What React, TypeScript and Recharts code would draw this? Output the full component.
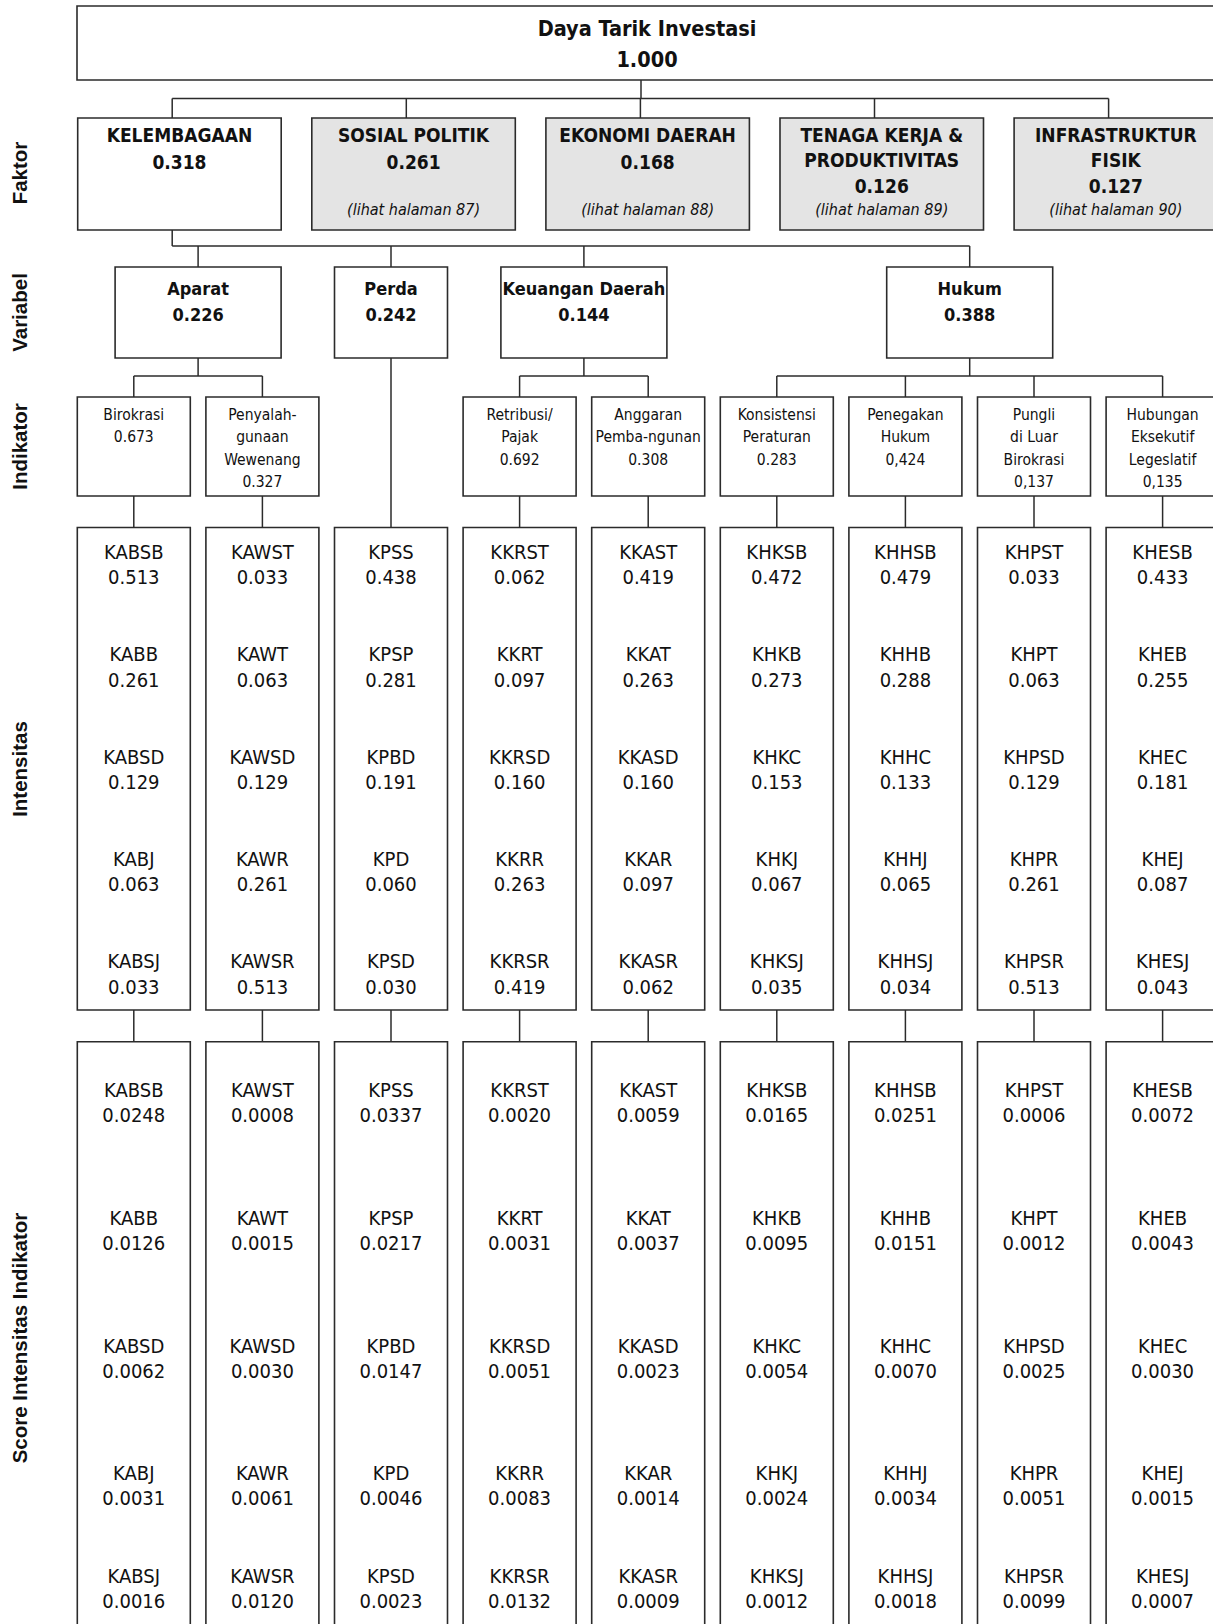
import React from 'react';
import { ScatterChart, Scatter, XAxis, YAxis, ReferenceArea, ReferenceLine } from 'recharts';

// ---------------- DATA ----------------
const rootTitle = 'Daya Tarik Investasi';
const rootValue = '1.000';

const faktorTitles = [
  ['KELEMBAGAAN'],
  ['SOSIAL POLITIK'],
  ['EKONOMI DAERAH'],
  ['TENAGA KERJA &', 'PRODUKTIVITAS'],
  ['INFRASTRUKTUR', 'FISIK'],
];
const faktorValues = ['0.318', '0.261', '0.168', '0.126', '0.127'];
const faktorNotes = ['', '(lihat halaman 87)', '(lihat halaman 88)', '(lihat halaman 89)', '(lihat halaman 90)'];

const variabelNames = ['Aparat', 'Perda', 'Keuangan Daerah', 'Hukum'];
const variabelValues = ['0.226', '0.242', '0.144', '0.388'];
const variabelChildren = [[0, 1], [2], [3, 4], [5, 6, 7, 8]];

const indikatorNames = [
  ['Birokrasi'],
  ['Penyalah-', 'gunaan', 'Wewenang'],
  [],
  ['Retribusi/', 'Pajak'],
  ['Anggaran', 'Pemba-ngunan'],
  ['Konsistensi', 'Peraturan'],
  ['Penegakan', 'Hukum'],
  ['Pungli', 'di Luar', 'Birokrasi'],
  ['Hubungan', 'Eksekutif', 'Legeslatif'],
];
const indikatorValues = ['0.673', '0.327', '', '0.692', '0.308', '0.283', '0,424', '0,137', '0,135'];

const intensitasCodes = [
  ['KABSB', 'KABB', 'KABSD', 'KABJ', 'KABSJ'],
  ['KAWST', 'KAWT', 'KAWSD', 'KAWR', 'KAWSR'],
  ['KPSS', 'KPSP', 'KPBD', 'KPD', 'KPSD'],
  ['KKRST', 'KKRT', 'KKRSD', 'KKRR', 'KKRSR'],
  ['KKAST', 'KKAT', 'KKASD', 'KKAR', 'KKASR'],
  ['KHKSB', 'KHKB', 'KHKC', 'KHKJ', 'KHKSJ'],
  ['KHHSB', 'KHHB', 'KHHC', 'KHHJ', 'KHHSJ'],
  ['KHPST', 'KHPT', 'KHPSD', 'KHPR', 'KHPSR'],
  ['KHESB', 'KHEB', 'KHEC', 'KHEJ', 'KHESJ'],
];
const intensitasValues = [
  ['0.513', '0.261', '0.129', '0.063', '0.033'],
  ['0.033', '0.063', '0.129', '0.261', '0.513'],
  ['0.438', '0.281', '0.191', '0.060', '0.030'],
  ['0.062', '0.097', '0.160', '0.263', '0.419'],
  ['0.419', '0.263', '0.160', '0.097', '0.062'],
  ['0.472', '0.273', '0.153', '0.067', '0.035'],
  ['0.479', '0.288', '0.133', '0.065', '0.034'],
  ['0.033', '0.063', '0.129', '0.261', '0.513'],
  ['0.433', '0.255', '0.181', '0.087', '0.043'],
];
const scoreValues = [
  ['0.0248', '0.0126', '0.0062', '0.0031', '0.0016'],
  ['0.0008', '0.0015', '0.0030', '0.0061', '0.0120'],
  ['0.0337', '0.0217', '0.0147', '0.0046', '0.0023'],
  ['0.0020', '0.0031', '0.0051', '0.0083', '0.0132'],
  ['0.0059', '0.0037', '0.0023', '0.0014', '0.0009'],
  ['0.0165', '0.0095', '0.0054', '0.0024', '0.0012'],
  ['0.0251', '0.0151', '0.0070', '0.0034', '0.0018'],
  ['0.0006', '0.0012', '0.0025', '0.0051', '0.0099'],
  ['0.0072', '0.0043', '0.0030', '0.0015', '0.0007'],
];

const rowLabels = ['Faktor', 'Variabel', 'Indikator', 'Intensitas', 'Score Intensitas Indikator'];

// ---------------- LAYOUT ----------------
const W = 1213;
const H = 1624;
const LINE = '#2b2b2b';
const GRAY = '#e4e4e4';

const ROOT_X1 = 77, ROOT_X2 = 1217, ROOT_Y1 = 6, ROOT_Y2 = 80;
const ROOT_DROP_X = 641;
const BUS1_Y = 98.5;
const FAK_LEFT0 = 77.7, FAK_STEP = 234.1, FAK_W = 203.5, FAK_TOP = 118, FAK_BOT = 230, FAK_DROP = 94.5;
const BUS2_Y = 246;
const VAR_TOP = 267, VAR_BOT = 358, VAR_W = 166;
const BUS3_Y = 376;
const COL_LEFT0 = 77.3, COL_STEP = 128.6, COL_W = 113;
const IND_TOP = 397, IND_BOT = 496;
const INT_TOP = 527.5, INT_BOT = 1010;
const SC_TOP = 1041.7, SC_BOT = 1680;
const INT_ROWS = [552, 654.3, 756.6, 858.9, 961.2];
const SC_ROWS = [1089.5, 1218, 1345.5, 1473, 1576];
const VAL_GAP = 25.3;
const SIDE_X = 19;
const SIDE_Y = [173, 312.5, 446.5, 769, 1338];

const COND = "'DejaVu Sans Condensed', 'DejaVu Sans', sans-serif";
const STYLES: Record<string, React.CSSProperties> = {
  root: { fontFamily: COND, fontStretch: 'condensed', fontWeight: 700, fontSize: 21.5 },
  faktor: { fontFamily: COND, fontStretch: 'condensed', fontWeight: 700, fontSize: 19 },
  note: { fontFamily: COND, fontStretch: 'condensed', fontStyle: 'italic', fontSize: 16 },
  variabel: { fontFamily: COND, fontStretch: 'condensed', fontWeight: 700, fontSize: 18 },
  indikator: { fontFamily: COND, fontStretch: 'condensed', fontWeight: 400, fontSize: 15.5 },
  code: { fontFamily: COND, fontStretch: 'condensed', fontWeight: 400, fontSize: 20 },
  side: { fontFamily: "'Liberation Sans', Arial, sans-serif", fontWeight: 700, fontSize: 20.5 },
};

const colLeft = (i: number) => COL_LEFT0 + COL_STEP * i;
const colCenter = (i: number) => colLeft(i) + COL_W / 2;
const fakLeft = (i: number) => FAK_LEFT0 + FAK_STEP * i;
const varCenter = (v: number) => {
  const ch = variabelChildren[v];
  return ch.reduce((s, c) => s + colCenter(c), 0) / ch.length;
};
const varWidth = (v: number) => (variabelChildren[v].length === 1 ? COL_W : VAR_W);

type Box = { x1: number; x2: number; y1: number; y2: number; fill: string };
type Seg = [number, number, number, number];
type TextItem = { x: number; y: number; text: string; kind: string };

const boxes: Box[] = [];
const segs: Seg[] = [];
const texts: TextItem[] = [];

// root
boxes.push({ x1: ROOT_X1, x2: ROOT_X2, y1: ROOT_Y1, y2: ROOT_Y2, fill: '#fff' });
texts.push({ x: (ROOT_X1 + ROOT_X2) / 2, y: 28, text: rootTitle, kind: 'root' });
texts.push({ x: (ROOT_X1 + ROOT_X2) / 2, y: 59, text: rootValue, kind: 'root' });
segs.push([ROOT_DROP_X, ROOT_Y2, ROOT_DROP_X, BUS1_Y]);
segs.push([fakLeft(0) + FAK_DROP, BUS1_Y, fakLeft(faktorTitles.length - 1) + FAK_DROP, BUS1_Y]);

// faktor
faktorTitles.forEach((lines, i) => {
  const l = fakLeft(i);
  const cx = l + FAK_W / 2;
  boxes.push({ x1: l, x2: l + FAK_W, y1: FAK_TOP, y2: FAK_BOT, fill: i === 0 ? '#fff' : GRAY });
  segs.push([l + FAK_DROP, BUS1_Y, l + FAK_DROP, FAK_TOP]);
  lines.forEach((t, k) => texts.push({ x: cx, y: 134.5 + 25.8 * k, text: t, kind: 'faktor' }));
  texts.push({ x: cx, y: 134.5 + 25.8 * lines.length + (lines.length === 1 ? 1.5 : 0), text: faktorValues[i], kind: 'faktor' });
  if (faktorNotes[i]) texts.push({ x: cx, y: 209, text: faktorNotes[i], kind: 'note' });
});

// kelembagaan -> variabel
const kx = fakLeft(0) + FAK_DROP;
segs.push([kx, FAK_BOT, kx, BUS2_Y]);
segs.push([kx, BUS2_Y, varCenter(variabelNames.length - 1), BUS2_Y]);

variabelNames.forEach((name, v) => {
  const cx = varCenter(v);
  const w = varWidth(v);
  boxes.push({ x1: cx - w / 2, x2: cx + w / 2, y1: VAR_TOP, y2: VAR_BOT, fill: '#fff' });
  segs.push([cx, BUS2_Y, cx, VAR_TOP]);
  texts.push({ x: cx, y: 288.5, text: name, kind: 'variabel' });
  texts.push({ x: cx, y: 314, text: variabelValues[v], kind: 'variabel' });
  const ch = variabelChildren[v];
  if (ch.length === 1) {
    segs.push([cx, VAR_BOT, cx, INT_TOP]);
  } else {
    segs.push([cx, VAR_BOT, cx, BUS3_Y]);
    segs.push([colCenter(ch[0]), BUS3_Y, colCenter(ch[ch.length - 1]), BUS3_Y]);
    ch.forEach((c) => segs.push([colCenter(c), BUS3_Y, colCenter(c), IND_TOP]));
  }
});

// indikator / intensitas / score columns
intensitasCodes.forEach((codes, i) => {
  const l = colLeft(i);
  const cx = colCenter(i);
  const lines = indikatorNames[i];
  if (lines.length) {
    boxes.push({ x1: l, x2: l + COL_W, y1: IND_TOP, y2: IND_BOT, fill: '#fff' });
    [...lines, indikatorValues[i]].forEach((t, k) =>
      texts.push({ x: cx, y: 415 + 22.3 * k, text: t, kind: 'indikator' })
    );
    segs.push([cx, IND_BOT, cx, INT_TOP]);
  }
  boxes.push({ x1: l, x2: l + COL_W, y1: INT_TOP, y2: INT_BOT, fill: '#fff' });
  segs.push([cx, INT_BOT, cx, SC_TOP]);
  boxes.push({ x1: l, x2: l + COL_W, y1: SC_TOP, y2: SC_BOT, fill: '#fff' });
  codes.forEach((code, r) => {
    texts.push({ x: cx, y: INT_ROWS[r], text: code, kind: 'code' });
    texts.push({ x: cx, y: INT_ROWS[r] + VAL_GAP, text: intensitasValues[i][r], kind: 'code' });
    texts.push({ x: cx, y: SC_ROWS[r], text: code, kind: 'code' });
    texts.push({ x: cx, y: SC_ROWS[r] + VAL_GAP, text: scoreValues[i][r], kind: 'code' });
  });
});

rowLabels.forEach((t, k) => texts.push({ x: SIDE_X, y: SIDE_Y[k], text: t, kind: 'side' }));

function TextMark(props: any) {
  const { cx, cy, payload } = props;
  if (cx == null || cy == null || !payload) return null;
  const st = STYLES[payload.kind];
  const transform = payload.kind === 'side' ? `rotate(-90 ${cx} ${cy})` : undefined;
  return (
    <text
      x={cx}
      y={cy}
      textAnchor="middle"
      dominantBaseline="central"
      fill="#111"
      transform={transform}
      style={st}
    >
      {payload.text}
    </text>
  );
}

export default function App() {
  return (
    <div style={{ position: 'absolute', left: 0, top: 0, width: W, height: H, background: '#fff' }}>
      <ScatterChart width={W} height={H} margin={{ top: 0, right: 0, bottom: 0, left: 0 }}>
        <XAxis type="number" dataKey="x" domain={[0, W]} allowDataOverflow hide />
        <YAxis type="number" dataKey="y" domain={[0, H]} allowDataOverflow reversed hide />
        {segs.map((s, i) => (
          <ReferenceLine
            key={'s' + i}
            segment={[{ x: s[0], y: s[1] }, { x: s[2], y: s[3] }]}
            stroke={LINE}
            strokeWidth={1.5}
            ifOverflow="visible"
          />
        ))}
        {boxes.map((b, i) => (
          <ReferenceArea
            key={'b' + i}
            x1={b.x1}
            x2={b.x2}
            y1={b.y1}
            y2={b.y2}
            fill={b.fill}
            fillOpacity={1}
            stroke={LINE}
            strokeWidth={1.6}
            ifOverflow="hidden"
          />
        ))}
        <Scatter data={texts} shape={TextMark} isAnimationActive={false} />
      </ScatterChart>
    </div>
  );
}
